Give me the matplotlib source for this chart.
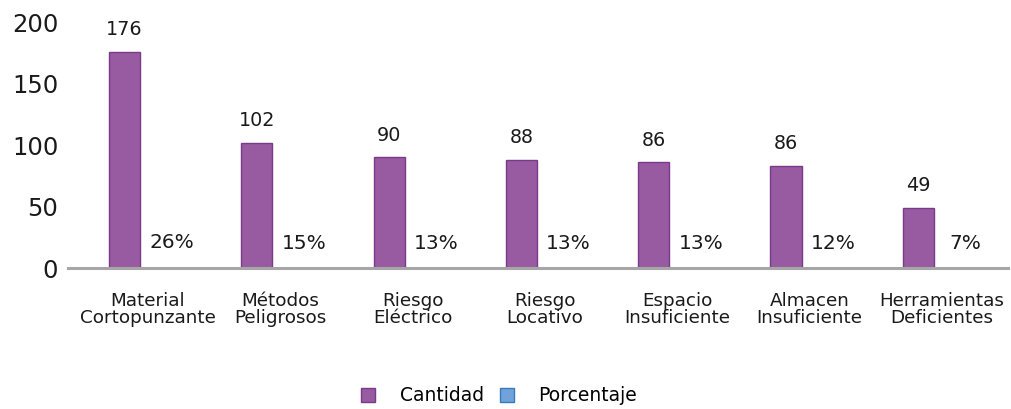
import matplotlib.pyplot as plt
import numpy as np

categorias = ['Material\nCortopunzante', 'Métodos\nPeligrosos', 'Riesgo\nEléctrico',
              'Riesgo\nLocativo', 'Espacio\nInsuficiente', 'Almacen\nInsuficiente',
              'Herramientas\nDeficientes']
cantidad = [176, 102, 90, 88, 86, 83, 49]
cantidad_labels = ['176', '102', '90', '88', '86', '86', '49']
porcentaje = [0.26, 0.15, 0.13, 0.13, 0.13, 0.12, 0.07]
porcentaje_labels = ['26%', '15%', '13%', '13%', '13%', '12%', '7%']
y_ticks = [0, 50, 100, 150, 200]

plt.rcParams['font.family'] = ['DejaVu Sans']

fig = plt.figure(figsize=(10.12, 4.09), dpi=100)
ax = fig.add_axes([0.0672, 0.3447, 0.9288, 0.6013])

x = np.arange(len(categorias))
w = 0.235
off = 0.178

b1 = ax.bar(x - off, cantidad, w, color='#985aa1', edgecolor='#7a3a8a', linewidth=1,
            label='Cantidad')
b2 = ax.bar(x + off, porcentaje, w, color='#6fa3d9', edgecolor='#3c78bd', linewidth=1,
            label='Porcentaje')

for xi, v, t in zip(x, cantidad, cantidad_labels):
    ax.annotate(t, (xi - off, v), xytext=(0, 9), textcoords='offset points',
                ha='center', va='bottom', fontsize=13.8, color='#1a1a1a')
for xi, v, t in zip(x, porcentaje, porcentaje_labels):
    ax.annotate(t, (xi + off, v), xytext=(0, 11), textcoords='offset points',
                ha='center', va='bottom', fontsize=14.5, color='#1a1a1a')

ax.set_xlim(-0.605, 6.5)
ax.set_ylim(0, 200)
ax.set_yticks(y_ticks)
ax.set_yticklabels([str(t) for t in y_ticks], fontsize=17.5, color='#1a1a1a')
ax.set_xticks(x)
ax.set_xticklabels(categorias, fontsize=13.2, color='#1a1a1a', linespacing=0.95)
ax.tick_params(axis='both', length=0)
ax.tick_params(axis='x', pad=17)
ax.tick_params(axis='y', pad=7)

for s in ['top', 'right', 'left']:
    ax.spines[s].set_visible(False)
ax.spines['bottom'].set_color('#a6a6a6')
ax.spines['bottom'].set_linewidth(2.2)

fig.legend(handles=[b1, b2], loc='center', bbox_to_anchor=(0.493, 0.032), ncol=2,
           frameon=False, fontsize=13.5, handlelength=0.75, handleheight=0.75,
           columnspacing=0.85, handletextpad=1.3)

plt.savefig('out.png', dpi=100)
